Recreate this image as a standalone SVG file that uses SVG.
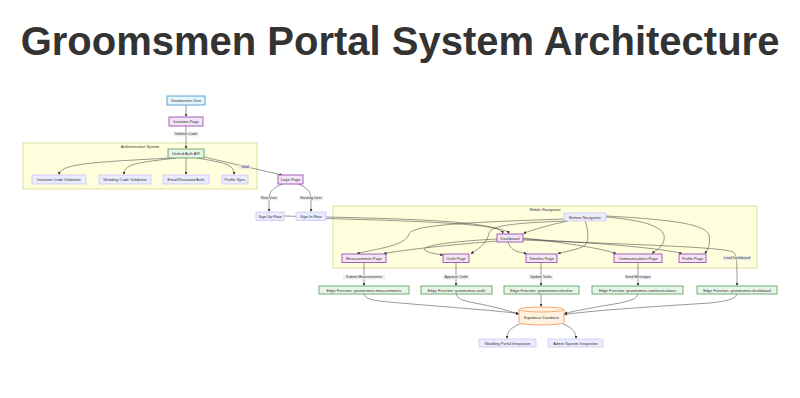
<svg xmlns="http://www.w3.org/2000/svg" width="800" height="398" viewBox="0 0 800 398">
  <defs>
    <marker id="arrow" viewBox="0 0 10 10" refX="9" refY="5" markerWidth="3" markerHeight="3" markerUnits="userSpaceOnUse" orient="auto">
      <path d="M0,0 L10,5 L0,10 z" fill="#333"/>
    </marker>
    <style>
      .title { font-family: "Liberation Sans", Arial, sans-serif; font-weight: bold; font-size: 40px; fill: #333; }
      text { font-family: "Liberation Sans", Arial, sans-serif; }
      .lbl { font-size: 3.9px; fill: #333; text-anchor: middle; dominant-baseline: central; }
      .cluster { fill: #ffffde; stroke: #c9c96a; stroke-width: 0.6; }
      .clabel { font-size: 3.9px; fill: #333; text-anchor: middle; }
      .user { fill: #e1f5fe; stroke: #3a8fc4; stroke-width: 0.8; }
      .page { fill: #f3e5f5; stroke: #9c4fb8; stroke-width: 0.9; }
      .api { fill: #e8f5e9; stroke: #4e9a52; stroke-width: 0.8; }
      .db { fill: #fff3e0; stroke: #f0a060; stroke-width: 0.9; }
      .def { fill: #ececff; stroke: #c4b8ee; stroke-width: 0.6; }
      .edge { fill: none; stroke: #444; stroke-width: 0.55; marker-end: url(#arrow); }
      .ebg { fill: #e8e8e8; opacity: 0.8; }
      .elbl { font-size: 3.6px; fill: #333; text-anchor: middle; dominant-baseline: central; }
    </style>
  </defs>

  <rect width="800" height="398" fill="#ffffff"/>

  <text class="title" x="400" y="55" text-anchor="middle">Groomsmen Portal System Architecture</text>

  <!-- subgraph backgrounds -->
  <g id="auth-system">
    <rect class="cluster" x="23" y="143" width="234" height="46"/>
    <text class="clabel" x="140" y="147.5">Authentication System</text>
  </g>
  <g id="mobile-navigation">
    <rect class="cluster" x="333" y="206" width="424" height="62"/>
    <text class="clabel" x="545" y="210.5">Mobile Navigation</text>
  </g>

  <!-- connectors -->
  <g id="connectors">
    <path class="edge" d="M186,105 L186,116.5"/>
    <path class="edge" d="M186,126 L186,148.5"/>
    <path class="edge" d="M170,158 C100,162 60,163 59,174.5"/>
    <path class="edge" d="M176,158 C135,163 124,164 124,174.5"/>
    <path class="edge" d="M186,158 L186,174.5"/>
    <path class="edge" d="M197,158 C225,163 234,164 234,174.5"/>
    <path class="edge" d="M204,157 L245,166.5 L282,175"/>
    <path class="edge" d="M284,183.5 C271,188 269,193 269,200 L269,211.5"/>
    <path class="edge" d="M297,183.5 C309,188 311,193 311,200 L311,211.5"/>

    <path class="edge" d="M284,216 L326,217 C420,219 500,222 503,233.5"/>
    <path class="edge" d="M326,218.5 C420,221 505,224 509,233.5"/>

    <path class="edge" d="M568,221 C545,226 532,230 523.5,233.5"/>
    <path class="edge" d="M564,219 C480,222 413,224 409,234 C406,246 375,249 357,253.5"/>
    <path class="edge" d="M497,241 C450,245 410,249 384,253.5"/>
    <path class="edge" d="M566,221 C510,223 491,226 489,233 C487,243 480,248 471,253.5"/>
    <path class="edge" d="M497,239 C440,242 418,247 426,251 C430,253 436,254 443,255"/>
    <path class="edge" d="M508,242 C510,249 515,252 526.5,253.5"/>
    <path class="edge" d="M585,221 C588,228 589,240 586,244 C582,249 568,251 558,253.5"/>
    <path class="edge" d="M523,238 C560,242 600,248 616,253.5"/>
    <path class="edge" d="M606,217 C640,220 660,225 664,235 C666,246 656,250 652,253.5"/>
    <path class="edge" d="M523,239 C600,243 660,248 682,253.5"/>
    <path class="edge" d="M606,216 C680,220 705,225 709,235 C711,246 707,250 705,253.5"/>
    <path class="edge" d="M523,240 C620,244 725,247 733,252 C737,255 737,258 737,285.5"/>

    <path class="edge" d="M364,262.5 L364,285.5"/>
    <path class="edge" d="M456,262.5 L456,285.5"/>
    <path class="edge" d="M541,262.5 L541,285.5"/>
    <path class="edge" d="M638,262.5 L638,285.5"/>

    <path class="edge" d="M364,294 C366,301 380,301 400,303 C460,308 500,311 518.5,313.5"/>
    <path class="edge" d="M456,294 C458,300 465,301 475,303 C500,308 510,311 518.5,314.5"/>
    <path class="edge" d="M541,294 L541,306.5"/>
    <path class="edge" d="M638,294 C636,300 628,301 620,303 C590,308 575,311 564.5,313.5"/>
    <path class="edge" d="M737,294 C735,300 725,301 710,303 C630,308 590,311 564.5,314.5"/>
    <path class="edge" d="M522,323 C512,327 507,331 507,338.5"/>
    <path class="edge" d="M561,323 C571,327 576,331 576,338.5"/>

    <!-- connector labels -->
    <rect class="ebg" x="173" y="132" width="26" height="4.4"/>
    <text class="elbl" x="186" y="134.2">Validate Code</text>
    <rect class="ebg" x="239" y="164.8" width="12" height="4.4"/>
    <text class="elbl" x="245" y="167">Valid</text>
    <rect class="ebg" x="260" y="196" width="18" height="4.4"/>
    <text class="elbl" x="269" y="198.2">New User</text>
    <rect class="ebg" x="299" y="196" width="24" height="4.4"/>
    <text class="elbl" x="311" y="198.2">Existing User</text>
    <rect class="ebg" x="723" y="256" width="28" height="4.4"/>
    <text class="elbl" x="737" y="258.2">Load Dashboard</text>
    <rect class="ebg" x="343" y="275" width="42" height="4.4"/>
    <text class="elbl" x="364" y="277.2">Submit Measurements</text>
    <rect class="ebg" x="443" y="275" width="26" height="4.4"/>
    <text class="elbl" x="456" y="277.2">Approve Outfit</text>
    <rect class="ebg" x="529" y="275" width="24" height="4.4"/>
    <text class="elbl" x="541" y="277.2">Update Tasks</text>
    <rect class="ebg" x="625" y="275" width="26" height="4.4"/>
    <text class="elbl" x="638" y="277.2">Send Messages</text>
  </g>

  <!-- nodes -->
  <g id="groomsmen-user"><rect class="user" x="167" y="96" width="38" height="9"/><text class="lbl" x="186" y="100.5">Groomsmen User</text></g>
  <g id="invitation-page"><rect class="page" x="169" y="117" width="34" height="9"/><text class="lbl" x="186" y="121.5">Invitation Page</text></g>
  <g id="unified-auth-api"><rect class="api" x="168" y="149" width="36" height="9"/><text class="lbl" x="186" y="153.5">Unified Auth API</text></g>
  <g id="invitation-code-validation"><rect class="def" x="32" y="175" width="54" height="9"/><text class="lbl" x="59" y="179.5">Invitation Code Validation</text></g>
  <g id="wedding-code-validation"><rect class="def" x="99" y="175" width="52" height="9"/><text class="lbl" x="125" y="179.5">Wedding Code Validation</text></g>
  <g id="email-password-auth"><rect class="def" x="163" y="175" width="46" height="9"/><text class="lbl" x="186" y="179.5">Email/Password Auth</text></g>
  <g id="profile-sync"><rect class="def" x="222" y="175" width="26" height="9"/><text class="lbl" x="235" y="179.5">Profile Sync</text></g>
  <g id="login-page"><rect class="page" x="278" y="175" width="25" height="9"/><text class="lbl" x="290.5" y="179.5">Login Page</text></g>
  <g id="sign-up-flow"><rect class="def" x="256" y="212" width="28" height="8.5"/><text class="lbl" x="270" y="216.2">Sign Up Flow</text></g>
  <g id="sign-in-flow"><rect class="def" x="296" y="212" width="30" height="8.5"/><text class="lbl" x="311" y="216.2">Sign In Flow</text></g>
  <g id="bottom-navigation"><rect class="def" x="564" y="213" width="42" height="8"/><text class="lbl" x="585" y="217">Bottom Navigation</text></g>
  <g id="dashboard"><rect class="page" x="497" y="234" width="26" height="8"/><text class="lbl" x="510" y="238">Dashboard</text></g>
  <g id="measurements-page"><rect class="page" x="342" y="254" width="44" height="8.5"/><text class="lbl" x="364" y="258.2">Measurements Page</text></g>
  <g id="outfit-page"><rect class="page" x="443" y="254" width="26" height="8.5"/><text class="lbl" x="456" y="258.2">Outfit Page</text></g>
  <g id="timeline-page"><rect class="page" x="526" y="254" width="31" height="8.5"/><text class="lbl" x="541.5" y="258.2">Timeline Page</text></g>
  <g id="communications-page"><rect class="page" x="614" y="254" width="48" height="8.5"/><text class="lbl" x="638" y="258.2">Communications Page</text></g>
  <g id="profile-page"><rect class="page" x="679" y="254" width="27" height="8.5"/><text class="lbl" x="692.5" y="258.2">Profile Page</text></g>
  <g id="fn-measurements"><rect class="api" x="319" y="286" width="90" height="8"/><text class="lbl" x="364" y="290">Edge Function: groomsmen-measurements</text></g>
  <g id="fn-outfit"><rect class="api" x="421" y="286" width="71" height="8"/><text class="lbl" x="456.5" y="290">Edge Function: groomsmen-outfit</text></g>
  <g id="fn-timeline"><rect class="api" x="504" y="286" width="75" height="8"/><text class="lbl" x="541.5" y="290">Edge Function: groomsmen-timeline</text></g>
  <g id="fn-communications"><rect class="api" x="592" y="286" width="91" height="8"/><text class="lbl" x="637.5" y="290">Edge Function: groomsmen-communications</text></g>
  <g id="fn-dashboard"><rect class="api" x="697" y="286" width="80" height="8"/><text class="lbl" x="737" y="290">Edge Function: groomsmen-dashboard</text></g>
  <g id="supabase-database">
    <path class="db" d="M519,309.5 a22.5,2.5 0 0,0 45,0 a22.5,2.5 0 0,0 -45,0 l0,13 a22.5,2.5 0 0,0 45,0 l0,-13"/>
    <text class="lbl" x="541.5" y="317">Supabase Database</text>
  </g>
  <g id="wedding-portal-integration"><rect class="def" x="479" y="339" width="57" height="8"/><text class="lbl" x="507.5" y="343">Wedding Portal Integration</text></g>
  <g id="admin-system-integration"><rect class="def" x="548" y="339" width="55" height="8"/><text class="lbl" x="575.5" y="343">Admin System Integration</text></g>
</svg>
